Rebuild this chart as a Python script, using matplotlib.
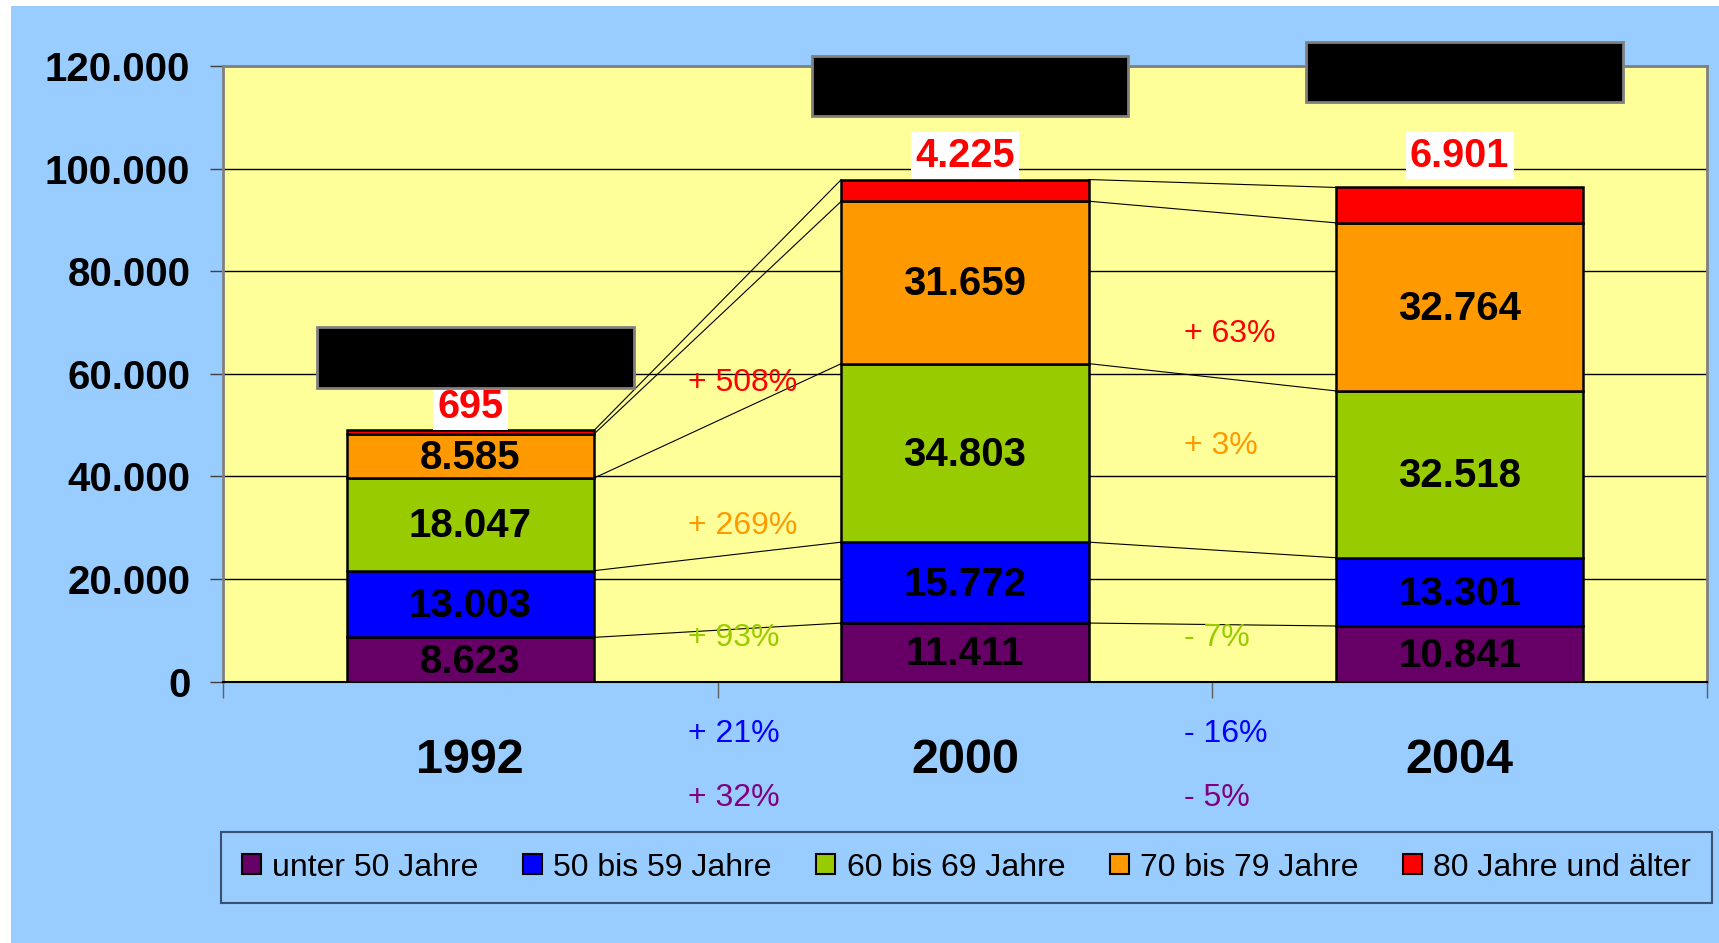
import matplotlib
matplotlib.use("Agg")
import matplotlib.pyplot as plt
from matplotlib.patches import Rectangle, Patch
from matplotlib.ticker import FuncFormatter, FixedLocator
from matplotlib.transforms import offset_copy
import numpy as np

plt.rcParams['font.family'] = ['Liberation Sans', 'DejaVu Sans']

# ---------------- data ----------------
years = ["1992", "2000", "2004"]
groups = ["unter 50 Jahre", "50 bis 59 Jahre", "60 bis 69 Jahre",
          "70 bis 79 Jahre", "80 Jahre und älter"]
v_unter50 = [8623, 11411, 10841]
v_50_59 = [13003, 15772, 13301]
v_60_69 = [18047, 34803, 32518]
v_70_79 = [8585, 31659, 32764]
v_80plus = [695, 4225, 6901]
seg_labels = [["8.623", "11.411", "10.841"],
              ["13.003", "15.772", "13.301"],
              ["18.047", "34.803", "32.518"],
              ["8.585", "31.659", "32.764"],
              ["695", "4.225", "6.901"]]
pct_1992_2000 = ["+ 32%", "+ 21%", "+ 93%", "+ 269%", "+ 508%"]
pct_2000_2004 = ["- 5%", "- 16%", "- 7%", "+ 3%", "+ 63%"]
yticks = [0, 20000, 40000, 60000, 80000, 100000, 120000]

# ---------------- style / layout ----------------
seg_colors = ['#660066', '#0000FF', '#99CC00', '#FF9900', '#FF0000']
pct_colors = ['#800080', '#0000FF', '#99CC00', '#FF9900', '#FF0000']
pct_y_first = [-22700, -10200, 8500, 30300, 58150]
pct_y_second = [-22700, -10200, 8500, 45900, 67700]

W, H = 1719, 943
fig = plt.figure(figsize=(W / 100, H / 100), dpi=100)
fig.patch.set_facecolor('white')
fig.patches.append(Rectangle((11 / W, 0), 1 - 11 / W, 1 - 6 / H,
                             transform=fig.transFigure, facecolor='#99CCFF',
                             edgecolor='none', zorder=-10))

ax = fig.add_axes([223 / W, 1 - 681.6 / H, (1707 - 223) / W, (681.6 - 66) / H])
ax.set_facecolor('#FFFF99')
ax.set_xlim(-0.5, 2.5)
ax.set_ylim(0, 120000)

series = [v_unter50, v_50_59, v_60_69, v_70_79, v_80plus]
x = np.arange(len(years))
bw = 0.5
bottom = np.zeros(len(years))
cum = []
seg_tr = offset_copy(ax.transData, fig=fig, x=0, y=-1.5, units='points')
for k, vals in enumerate(series):
    vals = np.array(vals, dtype=float)
    ax.bar(x, vals, bw, bottom=bottom, color=seg_colors[k],
           edgecolor='black', linewidth=1.8, zorder=3)
    if k < 4:
        for i in range(len(years)):
            ax.text(x[i], bottom[i] + vals[i] / 2, seg_labels[k][i],
                    ha='center', va='center', fontsize=29, fontweight='bold',
                    color='black', zorder=5, transform=seg_tr)
    bottom = bottom + vals
    cum.append(bottom.copy())
totals = bottom

# connector lines between bars
for k in range(len(series)):
    for i in range(len(years) - 1):
        ax.plot([x[i] + bw / 2, x[i + 1] - bw / 2], [cum[k][i], cum[k][i + 1]],
                color='black', linewidth=0.8, zorder=2)

# top (80+) labels
anchor = [totals[0], totals[1], max(totals[1], totals[2])]
for i in range(len(years)):
    ax.annotate(seg_labels[4][i], xy=(x[i], anchor[i]), xytext=(0, 3.5),
                textcoords='offset points', ha='center', va='bottom',
                fontsize=28.5, fontweight='bold', color='#FF0000', zorder=6,
                bbox=dict(facecolor='white', edgecolor='none', pad=3))

# percent change labels
for k in range(5):
    ax.text(0.44, pct_y_first[k], pct_1992_2000[k], ha='left', va='center',
            fontsize=23, color=pct_colors[k], clip_on=False, zorder=6)
    ax.text(1.443, pct_y_second[k], pct_2000_2004[k], ha='left', va='center',
            fontsize=23, color=pct_colors[k], clip_on=False, zorder=6)

# redaction boxes
box_ranges = [(57180, 69060), (110300, 122000), (113060, 124750)]
for i, (y0, y1) in enumerate(box_ranges):
    ax.add_patch(Rectangle((x[i] - 0.31, y0), 0.64, y1 - y0, facecolor='black',
                           edgecolor='#808080', linewidth=2, clip_on=False,
                           zorder=10))

# axes styling
ax.yaxis.set_major_locator(FixedLocator(yticks))
ax.yaxis.set_major_formatter(FuncFormatter(lambda v, p: f"{int(v):,}".replace(',', '.')))
ax.tick_params(axis='y', direction='out', length=9.5, width=1, color='#404040',
               labelsize=29, pad=14)
for lab in ax.get_yticklabels():
    lab.set_fontweight('bold')
ax.set_xticks([-0.5, 0.5, 1.5, 2.5])
ax.set_xticklabels([])
ax.tick_params(axis='x', direction='out', length=11.5, width=1, color='#606060')
for i, yr in enumerate(years):
    ax.text(x[i], -0.1485, yr, transform=ax.get_xaxis_transform(),
            ha='center', va='baseline', fontsize=35, fontweight='bold',
            color='black', clip_on=False)

ax.grid(axis='y', color='black', linewidth=1)
ax.set_axisbelow(True)
for s in ['top', 'left', 'right']:
    ax.spines[s].set_color('#808080')
    ax.spines[s].set_linewidth(2)
ax.spines['bottom'].set_color('black')
ax.spines['bottom'].set_linewidth(1.5)

# legend
handles = [Patch(facecolor=c, edgecolor='black', linewidth=1.5) for c in seg_colors]
leg = fig.legend(handles, groups, loc='center', ncol=5, mode='expand',
                 bbox_to_anchor=(221 / W, 1 - 907 / H, (1712 - 221) / W, 79 / H),
                 bbox_transform=fig.transFigure, fontsize=23, frameon=True,
                 fancybox=False, handlelength=0.6, handleheight=0.6,
                 handletextpad=0.35, borderpad=0.65, borderaxespad=0)
fr = leg.get_frame()
fr.set_facecolor('#99CCFF')
fr.set_edgecolor('#3a5070')
fr.set_linewidth(1.5)
fr.set_alpha(1)

fig.savefig('out.png', dpi=100, facecolor=fig.get_facecolor())
